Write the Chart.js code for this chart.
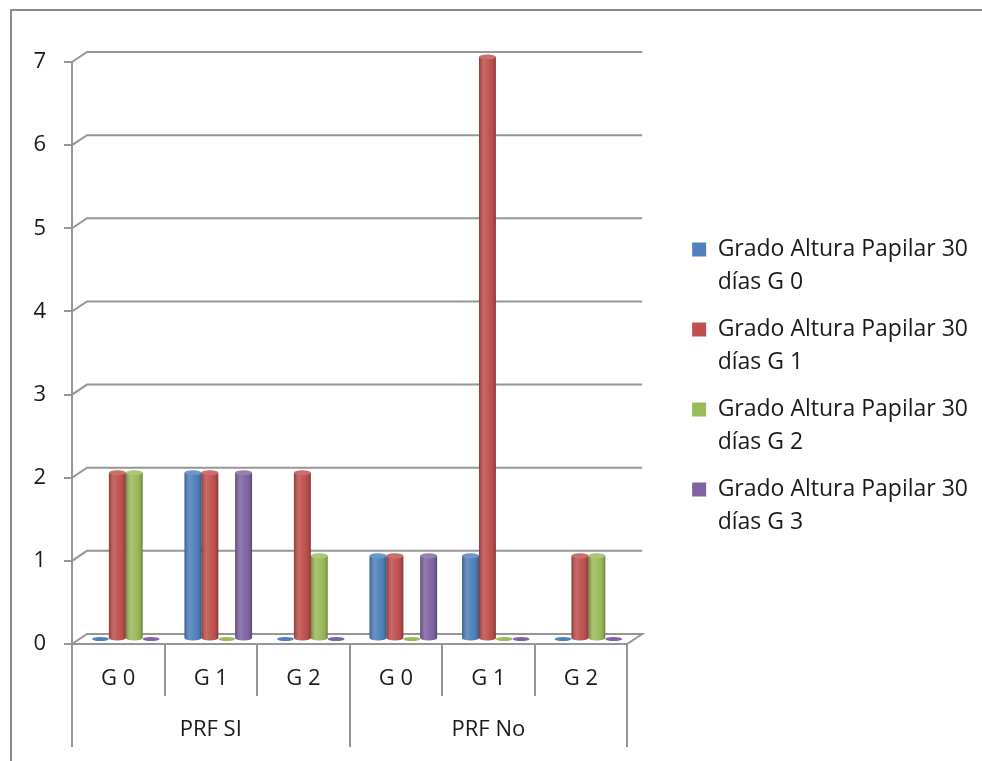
<!DOCTYPE html>
<html>
<head>
<meta charset="utf-8">
<script src="https://cdn.jsdelivr.net/npm/chart.js@4.4.1/dist/chart.umd.min.js"></script>
<style>
  html, body { margin: 0; padding: 0; background: #fff; }
  #wrap { position: relative; width: 982px; height: 761px; overflow: hidden; }
  #frame { position: absolute; left: 10px; top: 9px; width: 1000px; height: 800px;
           border-left: 2px solid #8c8c8c; border-top: 2px solid #8c8c8c; }
  canvas { position: absolute; left: 0; top: 0; }
</style>
</head>
<body>
<div id="wrap">
  <div id="frame"></div>
  <canvas id="chart" width="982" height="761"></canvas>
</div>
<script>
const categories = ['G 0', 'G 1', 'G 2', 'G 0', 'G 1', 'G 2'];
const groups = ['PRF SI', 'PRF No'];
const seriesNames = [
  'Grado Altura Papilar 30 días G 0',
  'Grado Altura Papilar 30 días G 1',
  'Grado Altura Papilar 30 días G 2',
  'Grado Altura Papilar 30 días G 3'
];
const g0Values = [0, 2, 0, 1, 1, 0];
const g1Values = [2, 2, 2, 1, 7, 1];
const g2Values = [2, 0, 1, 0, 0, 1];
const g3Values = [0, 2, 0, 1, 0, 0];
const yTicks = [0, 1, 2, 3, 4, 5, 6, 7];

const COLORS = ['#4f81bd', '#c0504d', '#9bbb59', '#8064a2'];
const GRID = '#969696';
const TEXT = '#1a1a1a';
const FONT = 'Open Sans';
const DX = 15, DY = 10;

// back wall gridlines + floor, then shift the bars half way into the depth
const depthPlugin = {
  id: 'depth',
  beforeDatasetsDraw(chart) {
    const ctx = chart.ctx;
    const area = chart.chartArea;
    const y = chart.scales.y;
    ctx.save();
    ctx.strokeStyle = GRID;
    ctx.lineWidth = 2;
    y.ticks.forEach(t => {
      const py = y.getPixelForValue(t.value);
      ctx.beginPath();
      ctx.moveTo(area.left, py);
      ctx.lineTo(area.left + DX, py - DY);
      ctx.lineTo(area.right + DX, py - DY);
      if (t.value === 0) ctx.lineTo(area.right, py);
      ctx.stroke();
    });
    ctx.restore();
    ctx.save();
    ctx.translate(DX / 2, -DY / 2);
  },
  afterDatasetsDraw(chart) {
    const ctx = chart.ctx;
    chart.data.datasets.forEach((ds, i) => {
      const meta = chart.getDatasetMeta(i);
      meta.data.forEach(bar => {
        const { x, y, base, width } = bar.getProps(['x', 'y', 'base', 'width'], true);
        const l = x - width / 2, r = x + width / 2, rx = width / 2, ry = width * 0.15;
        if (base - y < 0.5) {
          ctx.beginPath();
          ctx.ellipse(x, base, rx, ry * 0.8, 0, 0, Math.PI * 2);
          ctx.fillStyle = ds.backgroundColor;
          ctx.fill();
          return;
        }
        ctx.beginPath();
        ctx.ellipse(x, base, rx, ry, 0, 0, Math.PI);
        ctx.fillStyle = ds.backgroundColor;
        ctx.fill();

        const g = ctx.createLinearGradient(l, 0, r, 0);
        g.addColorStop(0, 'rgba(0,0,0,0.28)');
        g.addColorStop(0.3, 'rgba(255,255,255,0.14)');
        g.addColorStop(0.55, 'rgba(255,255,255,0.04)');
        g.addColorStop(0.85, 'rgba(0,0,0,0.08)');
        g.addColorStop(1, 'rgba(0,0,0,0.3)');
        ctx.beginPath();
        ctx.moveTo(l, y);
        ctx.lineTo(l, base);
        ctx.ellipse(x, base, rx, ry, 0, Math.PI, 0, true);
        ctx.lineTo(r, y);
        ctx.closePath();
        ctx.fillStyle = g;
        ctx.fill();

        ctx.beginPath();
        ctx.ellipse(x, y, rx, ry, 0, 0, Math.PI * 2);
        ctx.fillStyle = ds.backgroundColor;
        ctx.fill();
        ctx.fillStyle = 'rgba(255,255,255,0.18)';
        ctx.fill();
      });
    });
    ctx.restore();
  }
};

const valueSets = [g0Values, g1Values, g2Values, g3Values];

new Chart(document.getElementById('chart'), {
  type: 'bar',
  data: {
    labels: categories,
    datasets: valueSets.map((vals, i) => ({
      label: seriesNames[i],
      data: vals,
      backgroundColor: COLORS[i],
      borderWidth: 0,
      categoryPercentage: 0.73,
      barPercentage: 1.0,
      clip: false
    }))
  },
  options: {
    responsive: false,
    animation: false,
    layout: { padding: { left: 0, top: 62, right: 4, bottom: 14 } },
    plugins: {
      tooltip: { enabled: false },
      legend: {
        position: 'right',
        align: 'start',
        maxWidth: 400,
        title: { display: true, text: '', font: { size: 10, lineHeight: 1 }, padding: { top: 152, bottom: 0 } },
        labels: {
          font: { family: FONT, size: 23, lineHeight: 33 / 23 },
          color: TEXT,
          boxWidth: 14,
          boxHeight: 14,
          padding: 14,
          generateLabels(chart) {
            return chart.data.datasets.map((ds, i) => {
              const cut = ds.label.indexOf(' días');
              return {
                text: [ds.label.slice(0, cut), ds.label.slice(cut + 1)],
                fillStyle: ds.backgroundColor,
                strokeStyle: ds.backgroundColor,
                fontColor: TEXT,
                lineWidth: 0,
                datasetIndex: i
              };
            });
          }
        }
      }
    },
    scales: {
      x: {
        grid: { display: true, drawOnChartArea: false, offset: true, tickLength: 52, color: GRID, lineWidth: 2 },
        border: { display: true, color: GRID, width: 2 },
        ticks: { font: { family: FONT, size: 22 }, color: TEXT, padding: -30, maxRotation: 0, autoSkip: false },
        afterFit(s) { s.height = 52; }
      },
      x2: {
        type: 'category',
        labels: groups,
        position: 'bottom',
        offset: true,
        grid: { display: true, drawOnChartArea: false, offset: true, tickLength: 51, color: GRID, lineWidth: 2 },
        border: { display: false },
        ticks: { font: { family: FONT, size: 22 }, color: TEXT, padding: -30, maxRotation: 0 },
        afterFit(s) { s.height = 51; }
      },
      y: {
        min: 0,
        max: 7,
        afterBuildTicks(s) { s.ticks = yTicks.map(v => ({ value: v })); },
        grid: { display: true, drawOnChartArea: false, tickLength: 8, color: GRID, lineWidth: 2 },
        border: { display: true, color: GRID, width: 2 },
        ticks: { font: { family: FONT, size: 22 }, color: TEXT, padding: 18 },
        afterFit(s) { s.width = 72; }
      },
      spacer: {
        type: 'linear',
        position: 'right',
        display: true,
        grid: { display: false },
        border: { display: false },
        ticks: { display: false },
        afterFit(s) { s.width = 51; }
      }
    }
  },
  plugins: [depthPlugin]
});
</script>
</body>
</html>
